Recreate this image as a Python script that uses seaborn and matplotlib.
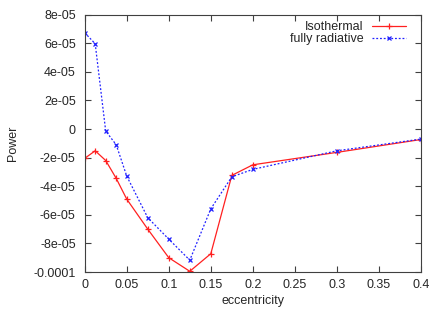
import matplotlib
matplotlib.use("Agg")
import matplotlib.pyplot as plt
import seaborn as sns
from matplotlib.ticker import FuncFormatter, MultipleLocator

ecc = [0.0, 0.0125, 0.025, 0.0375, 0.05, 0.075, 0.1, 0.125, 0.15, 0.175, 0.2, 0.3, 0.4]
isothermal = [-2.05e-5, -1.52e-5, -2.2e-5, -3.45e-5, -4.9e-5, -7.0e-5, -9.0e-5,
              -9.95e-5, -8.72e-5, -3.24e-5, -2.5e-5, -1.63e-5, -0.73e-5]
radiative = [6.74e-5, 5.97e-5, -0.14e-5, -1.1e-5, -3.29e-5, -6.2e-5, -7.7e-5,
             -9.17e-5, -5.58e-5, -3.34e-5, -2.82e-5, -1.52e-5, -0.7e-5]

sns.set_style("ticks")
plt.rcParams['font.family'] = ['Liberation Sans', 'DejaVu Sans']
fs = 9

fig = plt.figure(figsize=(4.42, 3.09), dpi=100)
ax = fig.add_axes([0.1916, 0.1197, 0.7609, 0.8327])

red = '#ff2020'
blue = '#2020ff'
sns.lineplot(x=ecc, y=isothermal, ax=ax, color=red, lw=0.9, marker='+',
             markersize=4.5, markeredgewidth=0.9, markeredgecolor=red, label='Isothermal')
sns.lineplot(x=ecc, y=radiative, ax=ax, color=blue, lw=0.9, ls=(0, (1.5, 1.5)),
             marker='x', markersize=3.5, markeredgewidth=0.9, markeredgecolor=blue,
             label='fully radiative')

ax.set_xlim(0, 0.4)
ax.set_ylim(-1e-4, 8e-5)
ax.xaxis.set_major_locator(MultipleLocator(0.05))
ax.yaxis.set_major_locator(MultipleLocator(2e-5))
fmt = FuncFormatter(lambda v, p: '%g' % (round(v, 10)))
ax.xaxis.set_major_formatter(fmt)
ax.yaxis.set_major_formatter(fmt)
ax.tick_params(axis='y', pad=6.5)
ax.tick_params(axis='x', pad=5)
ax.tick_params(direction='in', length=4, width=0.8, top=True, right=True,
               labelsize=fs, color='#404040')
for s in ax.spines.values():
    s.set_color('#404040')
    s.set_linewidth(0.8)

ax.set_xlabel('eccentricity', fontsize=fs, labelpad=3)
ax.set_ylabel('Power', fontsize=fs, labelpad=10)

ax.legend(loc='upper right', bbox_to_anchor=(0.97, 0.995), frameon=False,
          markerfirst=False, fontsize=fs, handlelength=2.7, borderaxespad=0,
          labelspacing=0.0, handletextpad=0.7)

fig.savefig('out.png', dpi=100)
